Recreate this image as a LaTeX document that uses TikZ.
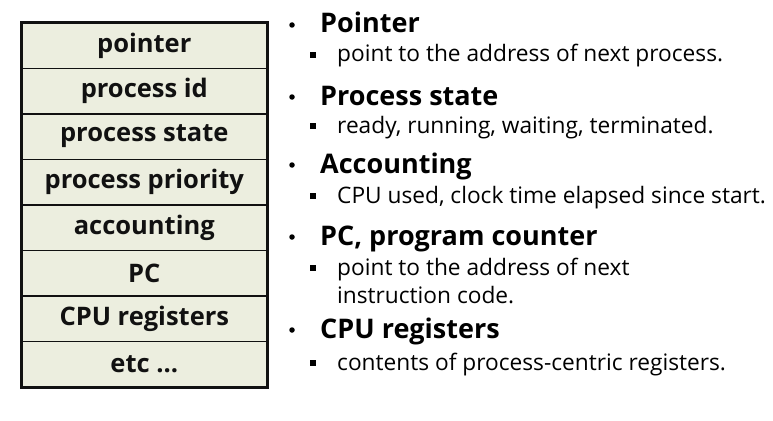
\documentclass[tikz,border=0pt]{standalone}
\usepackage{fontspec}
\setmainfont{Open Sans}
\definecolor{cellfill}{HTML}{ECEEDF}
\definecolor{ink}{HTML}{111111}
\begin{document}
\begin{tikzpicture}[x=1pt,y=-1pt,
  cell/.style={draw=ink,line width=1.6pt,fill=cellfill,minimum width=245pt,minimum height=45.5pt,inner sep=0pt,anchor=north west,
    font=\fontsize{25.5}{28}\selectfont\bfseries,text=ink},
  head/.style={anchor=base west,inner sep=0pt,font=\fontsize{27}{30}\selectfont\bfseries,text=black},
  sub/.style={anchor=base west,inner sep=0pt,font=\fontsize{22.7}{26}\selectfont,text=black},
  dot/.style={circle,fill=black,inner sep=0pt,minimum size=5.5pt},
  sq/.style={rectangle,fill=black,inner sep=0pt,minimum size=6.5pt}]
\useasboundingbox (0,0) rectangle (773,420);
\foreach \t [count=\i] in {{pointer},{process id},{process state},{process priority},{accounting},{PC},{CPU registers},{etc {...}}}{
  \node[cell] (r\i) at (21,{22+45.5*(\i-1)}) {\t};
}
\draw[ink,line width=2pt] (r1.north west) rectangle (r8.south east);
% headers
\node[head] (h1) at (320,33) {Pointer};
\node[head] (h2) at (320,105) {Process state};
\node[head] (h3) at (320,173) {Accounting};
\node[head] (h4) at (320,245) {PC, program counter};
\node[head] (h5) at (320,338) {CPU registers};
\foreach \i/\y in {1/33,2/105,3/173,4/245,5/338}{
  \node[dot] (b\i) at (292,\y-8) {};
}
\node[sub] (s1) at (337,62) {point to the address of next process.};
\node[sub] (s2) at (337,133) {ready, running, waiting, terminated.};
\node[sub] (s3) at (337,203) {CPU used, clock time elapsed since start.};
\node[sub] (s4) at (337,275) {point to the address of next};
\node[sub] (s4b) at (337,303) {instruction code.};
\node[sub] (s5) at (337,370) {contents of process-centric registers.};
\foreach \i/\y in {1/62,2/133,3/203,4/275,5/370}{
  \node[sq] (q\i) at (313,\y-7) {};
}
\end{tikzpicture}
\end{document}
